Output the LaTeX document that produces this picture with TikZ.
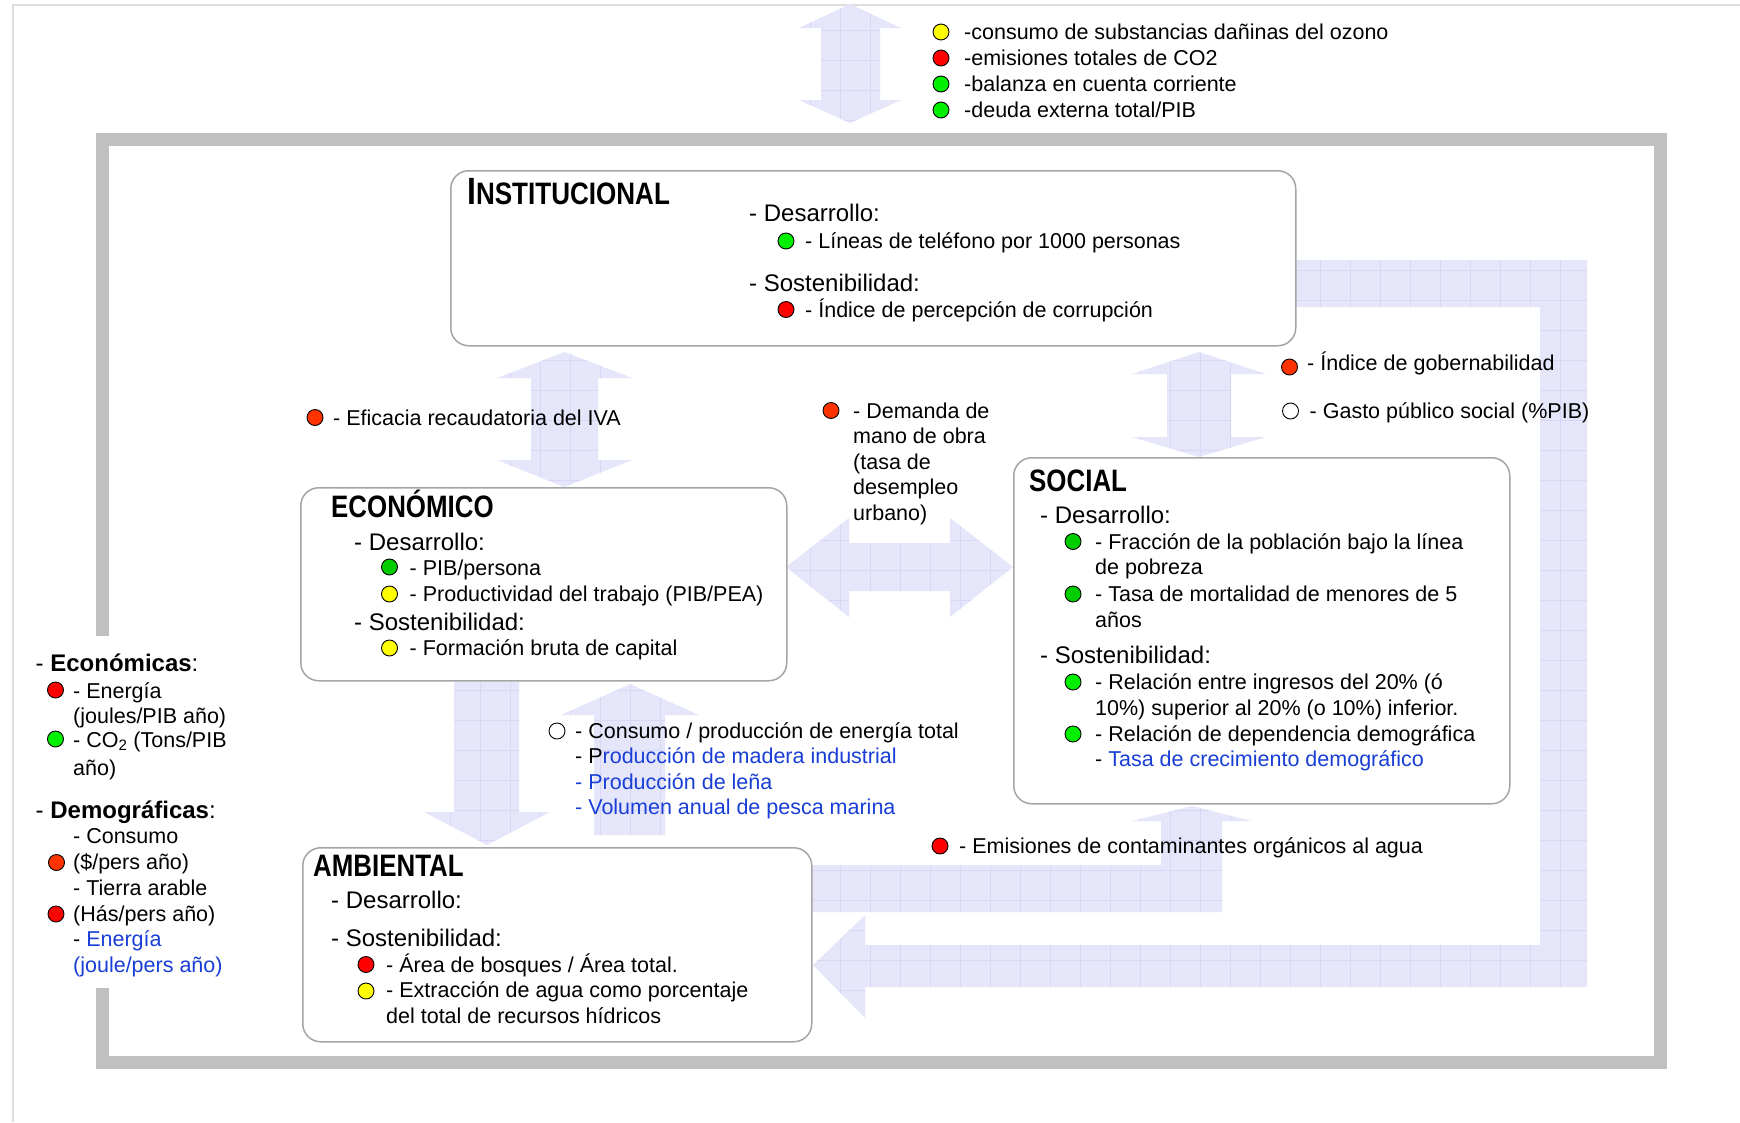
\documentclass[tikz,border=0pt]{standalone}
\usepackage{fontspec}
\setmainfont{Liberation Sans}
\usepackage{graphicx}
\definecolor{cyellow}{RGB}{255,255,0}
\definecolor{cred}{RGB}{255,0,0}
\definecolor{corange}{RGB}{255,51,0}
\definecolor{cgreen}{RGB}{0,240,0}
\definecolor{cdgreen}{RGB}{0,205,0}
\definecolor{ublue}{RGB}{24,62,214}
\definecolor{arrfill}{RGB}{230,230,251}
\definecolor{arrgrid}{RGB}{216,216,246}
\definecolor{framegray}{RGB}{192,192,192}
\definecolor{thingray}{RGB}{222,222,222}
\definecolor{boxgray}{RGB}{165,165,165}
\tikzset{
  txt/.style={anchor=base west, inner sep=0pt, font=\fontsize{21.5}{25.8}\selectfont},
  hd/.style={anchor=base west, inner sep=0pt, font=\fontsize{24}{28}\selectfont},
  ttl/.style={anchor=base west, inner sep=0pt},
  dot/.style={circle, draw=black, line width=0.9pt, minimum size=16pt, inner sep=0pt},
  box/.style={draw=boxgray, line width=1.5pt, fill=white, rounded corners=18pt, anchor=north west, inner sep=0pt},
  bigarrow/.style={fill=arrfill, path picture={\draw[arrgrid, line width=0.6pt, step=30pt] ([xshift=-1pt,yshift=-1pt]path picture bounding box.south west) grid (path picture bounding box.north east);}},
}
\newcommand{\ttlfont}[1]{\scalebox{0.835}[1]{\fontsize{31}{31}\selectfont\bfseries #1}}
\begin{document}
\begin{tikzpicture}[x=1pt,y=-1pt]
\useasboundingbox (0,0) rectangle (1740,1122);
\fill[white] (0,0) rectangle (1740,1122);
% thin page lines
\draw[thingray, line width=2pt] (12.5,1122) -- (12.5,5) -- (1740,5);
% gray frame
\draw[framegray, line width=13pt, line join=miter] (102.5,636) -- (102.5,139.5) -- (1660.5,139.5) -- (1660.5,1062.5) -- (102.5,1062.5) -- (102.5,988);

% arrows
\path[bigarrow] (850,4) -- (901,28) -- (880,28) -- (880,100) -- (901,100) -- (850,123) -- (799,100) -- (821,100) -- (821,28) -- (799,28) -- cycle;
\path[bigarrow] (564.5,352) -- (632,378) -- (598,378) -- (598,460) -- (632,460) -- (564.5,487) -- (497,460) -- (531,460) -- (531,378) -- (497,378) -- cycle;
\path[bigarrow] (1199,352) -- (1266,374) -- (1231,374) -- (1231,437) -- (1266,437) -- (1199,457) -- (1132,437) -- (1167,437) -- (1167,374) -- (1132,374) -- cycle;
\path[bigarrow] (786,567) -- (849,518) -- (849,543) -- (950,543) -- (950,518) -- (1013,567) -- (950,617) -- (950,591) -- (849,591) -- (849,617) -- cycle;
\path[bigarrow] (454,682) -- (519,682) -- (519,812) -- (550,812) -- (487,845) -- (424,812) -- (454,812) -- cycle;
\path[bigarrow] (630,684) -- (699,715) -- (665,715) -- (665,835) -- (594,835) -- (594,715) -- (561,715) -- cycle;
\path[bigarrow] (1290,260) -- (1587,260) -- (1587,987) -- (865,987) -- (865,1018) -- (813,965) -- (865,915) -- (865,945) -- (1540,945) -- (1540,307) -- (1290,307) -- cycle;
\path[bigarrow] (805,865) -- (1161,865) -- (1161,821) -- (1132,821) -- (1192,806) -- (1251,821) -- (1222,821) -- (1222,912) -- (805,912) -- cycle;

% boxes
\node[box, minimum width=845pt, minimum height=175pt] (inst) at (450,170) {};
\node[box, minimum width=486pt, minimum height=193pt] (econ) at (300,487) {};
\node[box, minimum width=496pt, minimum height=346pt] (soc) at (1013,457) {};
\node[box, minimum width=509pt, minimum height=194pt] (amb) at (302,847) {};

% top legend
\node[dot, fill=cyellow] (tl1) at (941,32) {};
\node[txt] (tt1) at (964,39.7) {-consumo de substancias dañinas del ozono};
\node[dot, fill=cred] (tl2) at (941,58) {};
\node[txt] (tt2) at (964,65.3) {-emisiones totales de CO2};
\node[dot, fill=cgreen] (tl3) at (941,84) {};
\node[txt] (tt3) at (964,91.5) {-balanza en cuenta corriente};
\node[dot, fill=cgreen] (tl4) at (941,110) {};
\node[txt] (tt4) at (964,117.4) {-deuda externa total/PIB};

% INSTITUCIONAL
\node[ttl] (instT) at (467,204) {\scalebox{0.84}[1]{\bfseries\fontsize{38}{38}\selectfont I\fontsize{31}{31}\selectfont NSTITUCIONAL}};
\node[hd] (instD) at (749,221.5) {- Desarrollo:};
\node[dot, fill=cgreen] (instd1) at (786,241) {};
\node[txt] (inst1) at (805,248.5) {- Líneas de teléfono por 1000 personas};
\node[hd] (instS) at (749,291.5) {- Sostenibilidad:};
\node[dot, fill=cred] (instd2) at (786,309.5) {};
\node[txt] (inst2) at (805,317) {- Índice de percepción de corrupción};

% ECONOMICO
\node[ttl] (econT) at (331,517) {\ttlfont{ECONÓMICO}};
\node[hd] (econD) at (354,550) {- Desarrollo:};
\node[dot, fill=cdgreen] (econd1) at (389.5,567) {};
\node[txt] (econ1) at (409.5,575) {- PIB/persona};
\node[dot, fill=cyellow] (econd2) at (389.5,594) {};
\node[txt] (econ2) at (409.5,601) {- Productividad del trabajo (PIB/PEA)};
\node[hd] (econS) at (354,630) {- Sostenibilidad:};
\node[dot, fill=cyellow] (econd3) at (389.5,648) {};
\node[txt] (econ3) at (409.5,655) {- Formación bruta de capital};

% SOCIAL
\node[ttl] (socT) at (1029,491) {\ttlfont{SOCIAL}};
\node[hd] (socD) at (1040,523.5) {- Desarrollo:};
\node[dot, fill=cdgreen] (socd1) at (1073,541.5) {};
\node[txt] (soc1) at (1095,549) {- Fracción de la población bajo la línea};
\node[txt] (soc1b) at (1095,574.5) {de pobreza};
\node[dot, fill=cdgreen] (socd2) at (1073,594) {};
\node[txt] (soc2) at (1095,601.5) {- Tasa de mortalidad de menores de 5};
\node[txt] (soc2b) at (1095,627) {años};
\node[hd] (socS) at (1040,663) {- Sostenibilidad:};
\node[dot, fill=cgreen] (socd3) at (1073,682) {};
\node[txt] (soc3) at (1095,689) {- Relación entre ingresos del 20\% (ó};
\node[txt] (soc3b) at (1095,715) {10\%) superior al 20\% (o 10\%) inferior.};
\node[dot, fill=cgreen] (socd4) at (1073,734) {};
\node[txt] (soc4) at (1095,741) {- Relación de dependencia demográfica};
\node[txt] (soc5) at (1095,766.5) {- \textcolor{ublue}{Tasa de crecimiento demográfico}};

% AMBIENTAL
\node[ttl] (ambT) at (313,876.5) {\ttlfont{AMBIENTAL}};
\node[hd] (ambD) at (331,908.5) {- Desarrollo:};
\node[hd] (ambS) at (331,946) {- Sostenibilidad:};
\node[dot, fill=cred] (ambd1) at (366,964.5) {};
\node[txt] (amb1) at (386,972) {- Área de bosques / Área total.};
\node[dot, fill=cyellow] (ambd2) at (366,991) {};
\node[txt] (amb2) at (386,997.5) {- Extracción de agua como porcentaje};
\node[txt] (amb2b) at (386,1023) {del total de recursos hídricos};

% free labels
\node[dot, fill=corange] (lbd1) at (315,417.5) {};
\node[txt] (lb1) at (333,425) {- Eficacia recaudatoria del IVA};
\node[dot, fill=corange] (lbd2) at (831,410.5) {};
\node[txt] (lb2a) at (853,418) {- Demanda de};
\node[txt] (lb2b) at (853,443.6) {mano de obra};
\node[txt] (lb2c) at (853,469.2) {(tasa de};
\node[txt] (lb2d) at (853,494.8) {desempleo};
\node[txt] (lb2e) at (853,520.4) {urbano)};
\node[dot, fill=corange] (lbd3) at (1289.5,367) {};
\node[txt] (lb3) at (1307,370.5) {- Índice de gobernabilidad};
\node[dot, fill=white] (lbd4) at (1290.5,411) {};
\node[txt] (lb4) at (1309.5,418) {- Gasto público social (\%PIB)};
\node[dot, fill=white] (lbd5) at (557,731) {};
\node[txt] (lb5a) at (575,738) {- Consumo / producción de energía total};
\node[txt] (lb5b) at (575,763.5) {- P\textcolor{ublue}{roducción de madera industrial}};
\node[txt, text=ublue] (lb5c) at (575,789) {- Producción de leña};
\node[txt, text=ublue] (lb5d) at (575,814.5) {- Volumen anual de pesca marina};
\node[dot, fill=cred] (lbd6) at (940,846) {};
\node[txt] (lb6) at (959,853) {- Emisiones de contaminantes orgánicos al agua};

% left legend
\node[hd] (lgE) at (35.5,671.5) {- \textbf{Económicas}:};
\node[dot, fill=cred] (lgd1) at (55.5,690) {};
\node[txt] (lg1) at (73,698) {- Energía};
\node[txt] (lg1b) at (73,723.5) {(joules/PIB año)};
\node[dot, fill=cgreen] (lgd2) at (55.5,739) {};
\node[txt] (lg2) at (73,747) {- CO\textsubscript{2} (Tons/PIB};
\node[txt] (lg2b) at (73,775) {año)};
\node[hd] (lgD) at (35.5,818.5) {- \textbf{Demográficas}:};
\node[txt] (lg3) at (73,843) {- Consumo};
\node[dot, fill=corange] (lgd3) at (56.5,862.5) {};
\node[txt] (lg3b) at (73,869.5) {(\$/pers año)};
\node[txt] (lg4) at (73,895) {- Tierra arable};
\node[dot, fill=cred] (lgd4) at (56,914) {};
\node[txt] (lg4b) at (73,921) {(Hás/pers año)};
\node[txt] (lg5) at (73,946) {- \textcolor{ublue}{Energía}};
\node[txt, text=ublue] (lg5b) at (73,972) {(joule/pers año)};
\end{tikzpicture}
\end{document}
